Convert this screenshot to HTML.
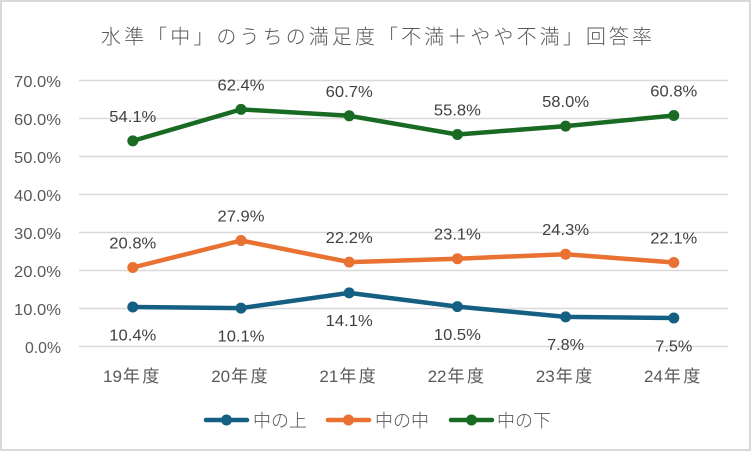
<!DOCTYPE html>
<html><head><meta charset="utf-8"><style>
html,body{margin:0;padding:0;background:#fff;}
svg{display:block;}
text{font-family:"Liberation Sans","Noto Sans CJK JP",sans-serif;}
</style></head><body>
<svg width="751" height="452" viewBox="0 0 751 452" xmlns="http://www.w3.org/2000/svg">
<rect x="1" y="1" width="749" height="449" fill="#fff" stroke="#d9d9d9" stroke-width="2"/>
<text x="101" y="43.5" font-size="20" fill="#595959" textLength="551" lengthAdjust="spacing" style="font-family:'Noto Sans CJK JP',sans-serif;font-weight:300">水準「中」のうちの満足度「不満＋やや不満」回答率</text>
<g stroke="#d9d9d9" stroke-width="1.5">
<line x1="79" x2="728" y1="80.5" y2="80.5"/>
<line x1="79" x2="728" y1="118.5" y2="118.5"/>
<line x1="79" x2="728" y1="156.5" y2="156.5"/>
<line x1="79" x2="728" y1="194.5" y2="194.5"/>
<line x1="79" x2="728" y1="232.5" y2="232.5"/>
<line x1="79" x2="728" y1="270.5" y2="270.5"/>
<line x1="79" x2="728" y1="308.5" y2="308.5"/>
<line x1="79" x2="728" y1="346.5" y2="346.5"/>
</g>
<g font-size="16" fill="#595959" text-anchor="end">
<text x="61" y="86.8" textLength="47" lengthAdjust="spacingAndGlyphs">70.0%</text>
<text x="61" y="124.8" textLength="47" lengthAdjust="spacingAndGlyphs">60.0%</text>
<text x="61" y="162.8" textLength="47" lengthAdjust="spacingAndGlyphs">50.0%</text>
<text x="61" y="200.8" textLength="47" lengthAdjust="spacingAndGlyphs">40.0%</text>
<text x="61" y="238.8" textLength="47" lengthAdjust="spacingAndGlyphs">30.0%</text>
<text x="61" y="276.8" textLength="47" lengthAdjust="spacingAndGlyphs">20.0%</text>
<text x="61" y="314.8" textLength="47" lengthAdjust="spacingAndGlyphs">10.0%</text>
<text x="61" y="352.8" textLength="36" lengthAdjust="spacingAndGlyphs">0.0%</text>
</g>
<g font-size="17" fill="#595959">
<text x="103" y="382">19<tspan dx="1" letter-spacing="2.5">年度</tspan></text>
<text x="211.2" y="382">20<tspan dx="1" letter-spacing="2.5">年度</tspan></text>
<text x="319.4" y="382">21<tspan dx="1" letter-spacing="2.5">年度</tspan></text>
<text x="427.6" y="382">22<tspan dx="1" letter-spacing="2.5">年度</tspan></text>
<text x="535.8" y="382">23<tspan dx="1" letter-spacing="2.5">年度</tspan></text>
<text x="644" y="382">24<tspan dx="1" letter-spacing="2.5">年度</tspan></text>
</g>
<!-- series -->
<g fill="none" stroke-width="4.5" stroke-linejoin="round" stroke-linecap="round">
<polyline stroke="#156082" points="132.8,307.0 241,308.1 349.2,292.9 457.4,306.6 565.6,316.9 673.8,318.0"/>
<polyline stroke="#E97132" points="132.8,267.5 241,240.5 349.2,262.1 457.4,258.7 565.6,254.2 673.8,262.5"/>
<polyline stroke="#196B24" points="132.8,140.9 241,109.4 349.2,115.8 457.4,134.5 565.6,126.1 673.8,115.5"/>
</g>
<g fill="#156082">
<circle cx="132.8" cy="307.0" r="5.5"/><circle cx="241" cy="308.1" r="5.5"/><circle cx="349.2" cy="292.9" r="5.5"/><circle cx="457.4" cy="306.6" r="5.5"/><circle cx="565.6" cy="316.9" r="5.5"/><circle cx="673.8" cy="318.0" r="5.5"/>
</g>
<g fill="#E97132">
<circle cx="132.8" cy="267.5" r="5.5"/><circle cx="241" cy="240.5" r="5.5"/><circle cx="349.2" cy="262.1" r="5.5"/><circle cx="457.4" cy="258.7" r="5.5"/><circle cx="565.6" cy="254.2" r="5.5"/><circle cx="673.8" cy="262.5" r="5.5"/>
</g>
<g fill="#196B24">
<circle cx="132.8" cy="140.9" r="5.5"/><circle cx="241" cy="109.4" r="5.5"/><circle cx="349.2" cy="115.8" r="5.5"/><circle cx="457.4" cy="134.5" r="5.5"/><circle cx="565.6" cy="126.1" r="5.5"/><circle cx="673.8" cy="115.5" r="5.5"/>
</g>
<!-- data labels -->
<g font-size="16" fill="#404040" text-anchor="middle">
<text x="132.8" y="121.9" textLength="47" lengthAdjust="spacingAndGlyphs">54.1%</text>
<text x="241" y="90.4" textLength="47" lengthAdjust="spacingAndGlyphs">62.4%</text>
<text x="349.2" y="96.8" textLength="47" lengthAdjust="spacingAndGlyphs">60.7%</text>
<text x="457.4" y="115.5" textLength="47" lengthAdjust="spacingAndGlyphs">55.8%</text>
<text x="565.6" y="107.1" textLength="47" lengthAdjust="spacingAndGlyphs">58.0%</text>
<text x="673.8" y="96.5" textLength="47" lengthAdjust="spacingAndGlyphs">60.8%</text>

<text x="132.8" y="248.3" textLength="47" lengthAdjust="spacingAndGlyphs">20.8%</text>
<text x="241" y="221.3" textLength="47" lengthAdjust="spacingAndGlyphs">27.9%</text>
<text x="349.2" y="242.9" textLength="47" lengthAdjust="spacingAndGlyphs">22.2%</text>
<text x="457.4" y="239.5" textLength="47" lengthAdjust="spacingAndGlyphs">23.1%</text>
<text x="565.6" y="235.0" textLength="47" lengthAdjust="spacingAndGlyphs">24.3%</text>
<text x="673.8" y="243.3" textLength="47" lengthAdjust="spacingAndGlyphs">22.1%</text>

<text x="132.8" y="340.3" textLength="47" lengthAdjust="spacingAndGlyphs">10.4%</text>
<text x="241" y="341.4" textLength="47" lengthAdjust="spacingAndGlyphs">10.1%</text>
<text x="349.2" y="326.2" textLength="47" lengthAdjust="spacingAndGlyphs">14.1%</text>
<text x="457.4" y="339.9" textLength="47" lengthAdjust="spacingAndGlyphs">10.5%</text>
<text x="565.6" y="350.2" textLength="37" lengthAdjust="spacingAndGlyphs">7.8%</text>
<text x="673.8" y="351.3" textLength="37" lengthAdjust="spacingAndGlyphs">7.5%</text>
</g>
<!-- legend -->
<g stroke-width="4.5" stroke-linecap="round">
<line x1="206" x2="247" y1="420" y2="420" stroke="#156082"/>
<line x1="328" x2="369" y1="420" y2="420" stroke="#E97132"/>
<line x1="451" x2="492" y1="420" y2="420" stroke="#196B24"/>
</g>
<circle cx="226.5" cy="420" r="5.5" fill="#156082"/>
<circle cx="348.5" cy="420" r="5.5" fill="#E97132"/>
<circle cx="471.5" cy="420" r="5.5" fill="#196B24"/>
<g font-size="18" fill="#595959" style="font-family:'Noto Sans CJK JP',sans-serif;font-weight:300">
<text x="253" y="427" textLength="54" lengthAdjust="spacing">中の上</text>
<text x="375" y="427" textLength="54" lengthAdjust="spacing">中の中</text>
<text x="497" y="427" textLength="54" lengthAdjust="spacing">中の下</text>
</g>
</svg>
</body></html>
